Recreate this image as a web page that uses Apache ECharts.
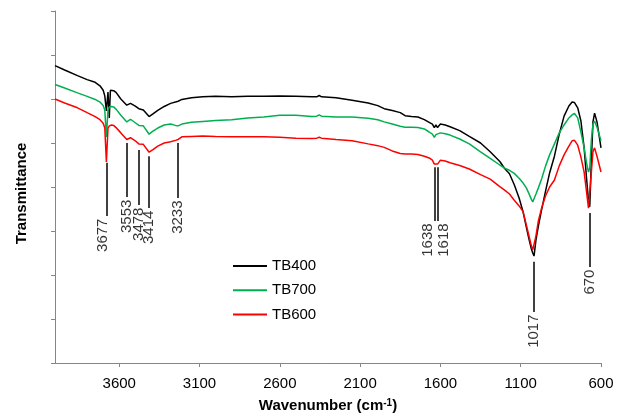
<!DOCTYPE html>
<html>
<head>
<meta charset="utf-8">
<script src="https://cdn.jsdelivr.net/npm/echarts@6/dist/echarts.min.js"></script>
<style>
  html, body { margin: 0; padding: 0; background: #fff; }
  #chart { width: 622px; height: 414px; }
</style>
</head>
<body>
<div id="chart"></div>
<script>
// FTIR spectra: wavenumber (cm-1) against transmittance (arbitrary units)
const wavenumbers = [
  4000, 3940, 3860, 3800, 3750, 3720, 3700, 3690, 3680, 3670,
  3662, 3655, 3648, 3635, 3620, 3590, 3553, 3530, 3500, 3478,
  3450, 3414, 3390, 3360, 3320, 3280, 3250, 3233, 3210, 3150,
  3080, 3000, 2900, 2800, 2700, 2600, 2500, 2400, 2370, 2355,
  2340, 2250, 2150, 2050, 1990, 1950, 1900, 1850, 1820, 1780,
  1740, 1700, 1670, 1650, 1638, 1628, 1618, 1600, 1570, 1540,
  1480, 1420, 1350, 1290, 1230, 1200, 1170, 1140, 1110, 1085,
  1065, 1050, 1035, 1025, 1017, 1005, 990, 970, 945, 920,
  890, 860, 830, 800, 780, 765, 745, 725, 705, 690,
  678, 670, 660, 650, 640, 625, 600
];

const tb400 = [
  67.6, 66.6, 65.3, 64.4, 63.8, 63.0, 62.0, 60.7, 57.3, 61.6,
  55.7, 62.0, 61.9, 61.9, 61.5, 60.0, 58.6, 59.0, 58.4, 57.8,
  57.5, 56.0, 56.6, 57.4, 58.3, 59.0, 59.3, 59.5, 59.9, 60.3,
  60.5, 60.6, 60.5, 60.6, 60.6, 60.7, 60.6, 60.5, 60.5, 60.8,
  60.5, 60.3, 59.7, 59.1, 58.5, 57.8, 57.4, 56.9, 56.2, 56.0,
  55.9, 55.3, 54.7, 54.3, 53.5, 54.1, 53.5, 54.3, 54.1, 53.7,
  52.8, 51.5, 50.0, 48.0, 45.8, 44.2, 43.0, 40.5, 37.5, 34.3,
  30.9, 28.4, 26.1, 25.0, 24.3, 28.0, 31.1, 34.8, 39.1, 43.2,
  47.0, 52.0, 56.1, 58.4, 59.3, 59.2, 58.0, 55.0, 48.9, 42.0,
  37.0, 35.5, 46.1, 54.8, 56.8, 54.8, 48.9
];

const tb700 = [
  63.3, 62.5, 61.4, 60.6, 59.9, 59.3, 58.5, 57.5, 51.4, 57.5,
  58.2, 58.4, 58.3, 58.2, 57.7, 56.3, 54.8, 55.4, 54.6, 54.0,
  53.9, 52.0, 52.7, 53.4, 54.1, 54.3, 54.0, 53.9, 54.3, 54.7,
  54.9, 55.1, 55.3, 55.7, 55.9, 56.3, 56.3, 56.0, 56.1, 56.4,
  56.1, 55.9, 55.9, 55.6, 55.3, 54.8, 54.3, 53.8, 53.6, 53.6,
  53.5, 53.2, 52.5, 52.0, 51.3, 51.9, 51.5, 52.3, 52.1, 51.8,
  50.9, 49.8, 48.0, 46.5, 45.0, 44.3, 43.8, 43.1, 42.0, 40.9,
  39.8, 38.6, 37.3, 36.6, 36.8, 38.4, 39.8, 41.8, 44.8, 47.3,
  49.8, 52.3, 54.1, 55.7, 56.4, 56.7, 55.7, 52.5, 48.9, 45.5,
  43.4, 44.3, 50.7, 54.3, 55.0, 53.6, 50.5
];

const tb600 = [
  60.0, 59.1, 58.0, 56.9, 56.0, 55.3, 54.5, 53.4, 45.7, 53.4,
  53.9, 54.1, 54.1, 54.0, 53.5, 52.3, 50.8, 51.2, 50.5, 49.8,
  49.7, 47.9, 48.5, 49.3, 50.0, 50.3, 50.6, 50.8, 51.4, 51.5,
  51.6, 51.5, 51.4, 51.4, 51.4, 51.3, 51.1, 51.0, 51.1, 51.3,
  51.1, 50.8, 50.5, 49.8, 49.4, 49.0, 48.2, 47.6, 47.5, 47.5,
  47.4, 47.0, 46.6, 46.1, 45.2, 45.6, 45.2, 46.1, 45.9, 45.5,
  44.9, 44.1, 42.8, 41.8, 40.1, 39.3, 38.4, 37.0, 35.7, 34.4,
  31.4, 29.1, 26.8, 25.7, 25.5, 28.9, 32.3, 35.2, 38.0, 40.0,
  41.6, 44.8, 47.3, 49.3, 50.5, 50.6, 49.5, 46.8, 43.4, 38.9,
  35.2, 34.8, 43.4, 48.0, 48.9, 47.0, 43.4
];

const seriesNames = ['TB400', 'TB700', 'TB600'];
const xTicks = [3600, 3100, 2600, 2100, 1600, 1100, 600];

// Assigned bands and the span of each marker line (transmittance units)
const peakWavenumbers = [3677, 3553, 3478, 3414, 3233, 1638, 1618, 1017, 670];
const peakLineTop = [45.5, 50.0, 48.4, 47.0, 50.0, 44.5, 44.5, 23.0, 34.1];
const peakLineBottom = [33.4, 37.7, 35.9, 35.2, 37.5, 32.3, 32.3, 11.6, 21.8];

const FONT = '"Liberation Sans", Arial, sans-serif';
const AXIS_GRAY = '#868686';
const colors = ['#000000', '#00B050', '#FF0000'];
// sideways nudges for labels (offset is in the rotated label frame)
const labelNudge = { 3677: -4, 1638: -6, 1618: 6 };

const pairs = vals => wavenumbers.map((w, i) => [w, vals[i]]);

const spectra = [tb400, tb700, tb600].map((vals, k) => ({
  name: seriesNames[k],
  type: 'line',
  data: pairs(vals),
  symbol: 'none',
  showSymbol: false,
  smooth: false,
  lineStyle: { color: colors[k], width: 1.5 },
  itemStyle: { color: colors[k] },
  emphasis: { disabled: true },
  z: 2 + k
}));

const bandMarkers = {
  type: 'scatter',
  data: peakWavenumbers.map((w, i) => ({
    value: [w, peakLineBottom[i]],
    label: { offset: [0, labelNudge[w] || 0] }
  })),
  symbolSize: 1,
  itemStyle: { color: 'rgba(0,0,0,0)' },
  emphasis: { disabled: true },
  silent: true,
  label: {
    show: true,
    formatter: p => String(p.value[0]),
    position: 'bottom',
    distance: 2,
    rotate: 90,
    align: 'right',
    verticalAlign: 'middle',
    fontFamily: FONT,
    fontSize: 15,
    color: '#000'
  },
  markLine: {
    silent: true,
    symbol: 'none',
    animation: false,
    label: { show: false },
    lineStyle: { color: '#000', width: 1.5, type: 'solid' },
    emphasis: { disabled: true },
    data: peakWavenumbers.map((w, i) => [
      { coord: [w, peakLineTop[i]] },
      { coord: [w, peakLineBottom[i]] }
    ])
  },
  z: 6
};

const chart = echarts.init(document.getElementById('chart'), null, { renderer: 'canvas' });
chart.setOption({
  animation: false,
  backgroundColor: '#fff',
  grid: { left: 55, right: 21, top: 11, bottom: 51, containLabel: false, outerBoundsMode: 'none' },
  legend: {
    data: seriesNames,
    orient: 'vertical',
    left: 233,
    top: 258,
    padding: 0,
    icon: 'rect',
    itemWidth: 34,
    itemHeight: 2,
    itemGap: 8.3,
    textStyle: { fontFamily: FONT, fontSize: 15, color: '#000', lineHeight: 16 }
  },
  xAxis: {
    type: 'value',
    inverse: true,
    min: 600,
    max: 4000,
    axisLine: { show: true, lineStyle: { color: AXIS_GRAY, width: 1 } },
    axisTick: { show: true, length: 4, customValues: xTicks, lineStyle: { color: AXIS_GRAY } },
    axisLabel: {
      customValues: xTicks,
      formatter: v => String(v),
      fontFamily: FONT, fontSize: 15, color: '#000', margin: 13
    },
    splitLine: { show: false },
    name: 'Wavenumber (cm{sup|-1})',
    nameLocation: 'middle',
    nameGap: 35,
    nameTextStyle: {
      fontFamily: FONT, fontSize: 15, fontWeight: 'bold', color: '#000',
      rich: { sup: { fontFamily: FONT, fontSize: 10, fontWeight: 'bold', color: '#000', verticalAlign: 'top' } }
    }
  },
  yAxis: {
    type: 'value',
    min: 0,
    max: 80,
    interval: 10,
    axisLine: { show: true, lineStyle: { color: AXIS_GRAY, width: 1 } },
    axisTick: { show: true, length: 4, lineStyle: { color: AXIS_GRAY } },
    axisLabel: { show: false },
    splitLine: { show: false },
    name: 'Transmittance',
    nameLocation: 'middle',
    nameGap: 26,
    nameTextStyle: {
      fontFamily: FONT, fontSize: 15, fontWeight: 'bold', color: '#000',
      padding: [0, 13, 0, 0]
    }
  },
  series: [...spectra, bandMarkers]
});
</script>
</body>
</html>
